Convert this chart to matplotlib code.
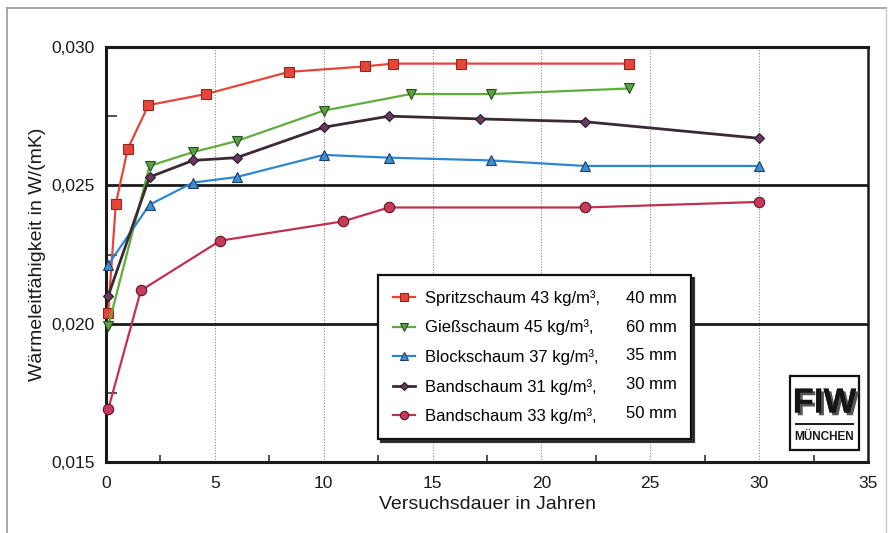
import numpy as np
import matplotlib
matplotlib.use('Agg')
import matplotlib.pyplot as plt
import matplotlib.patheffects as pe
from matplotlib.ticker import FixedLocator, FuncFormatter
from matplotlib.lines import Line2D
from matplotlib.patches import Rectangle

plt.rcParams['font.family'] = ['Liberation Sans', 'DejaVu Sans']

# data (years, W/(mK))
spritz_x = [0.1, 0.45, 1.0, 1.95, 4.6, 8.4, 11.9, 13.2, 16.3, 24.0]
spritz_y = [0.0204, 0.02433, 0.02632, 0.0279, 0.0283, 0.0291, 0.0293, 0.0294, 0.0294, 0.0294]

giess_x = [0.1, 2.0, 4.0, 6.0, 10.0, 14.0, 17.7, 24.0]
giess_y = [0.0199, 0.0257, 0.0262, 0.0266, 0.0277, 0.0283, 0.0283, 0.0285]

block_x = [0.1, 2.0, 4.0, 6.0, 10.0, 13.0, 17.7, 22.0, 30.0]
block_y = [0.02213, 0.0243, 0.0251, 0.0253, 0.0261, 0.0260, 0.0259, 0.0257, 0.0257]

band31_x = [0.1, 2.0, 4.0, 6.0, 10.0, 13.0, 17.2, 22.0, 30.0]
band31_y = [0.0210, 0.0253, 0.0259, 0.0260, 0.0271, 0.0275, 0.0274, 0.0273, 0.0267]

band33_x = [0.1, 1.6, 5.25, 10.9, 13.0, 22.0, 30.0]
band33_y = [0.0169, 0.0212, 0.0230, 0.0237, 0.0242, 0.0242, 0.0244]

names = ['Spritzschaum 43 kg/m³,', 'Gießschaum 45 kg/m³,', 'Blockschaum 37 kg/m³,',
         'Bandschaum 31 kg/m³,', 'Bandschaum 33 kg/m³,']
thick = ['40 mm', '60 mm', '35 mm', '30 mm', '50 mm']

fig = plt.figure(figsize=(8.88, 5.33), dpi=100)
ax = fig.add_axes([106/888, 1-462/533, (868-106)/888, (462-47)/533])

# outer frame of the page
fig.add_artist(Line2D([7/888, 7/888], [0, 1-8/533], color='#9a9a9a', lw=1.2))
fig.add_artist(Line2D([7/888, 886/888], [1-8/533, 1-8/533], color='#9a9a9a', lw=1.2))
fig.add_artist(Line2D([886/888, 886/888], [0, 1-8/533], color='#cfcfcf', lw=1.0))

# grid
for gx in [5, 10, 15, 20, 25, 30]:
    ax.axvline(gx, color='#8a8a8a', lw=0.8, ls=(0, (1, 1.5)), zorder=1)
for gy in [0.020, 0.025]:
    ax.axhline(gy, color='#1a1a1a', lw=2.0, zorder=1)

series = [
    (spritz_x, spritz_y, '#e8453a', 's', '#e8453a', '#8a2a20', 7.5),
    (giess_x, giess_y, '#5fae3c', 'v', '#5aa23a', '#2a4a2a', 7.5),
    (block_x, block_y, '#2f86d0', '^', '#3c8fd4', '#1f3f66', 7.5),
    (band31_x, band31_y, '#3b2a36', 'D', '#6a3a5c', '#2a1a28', 5.5),
    (band33_x, band33_y, '#c2304f', 'o', '#c8385a', '#5a1a28', 7.5),
]
handles = []
for (xs, ys, lc, mk, mfc, mec, ms), lab in zip(series, names):
    h, = ax.plot(xs, ys, color=lc, lw=1.6 if lc != '#3b2a36' else 2.0,
                 marker=mk, markersize=ms, markerfacecolor=mfc, markeredgecolor=mec,
                 markeredgewidth=0.8, label=lab, zorder=3, clip_on=False)
    handles.append(h)

ax.set_xlim(0, 35)
ax.set_ylim(0.015, 0.030)
ax.xaxis.set_major_locator(FixedLocator([0, 5, 10, 15, 20, 25, 30, 35]))
ax.xaxis.set_minor_locator(FixedLocator([2.5, 7.5, 12.5, 17.5, 22.5, 27.5, 32.5]))
ax.yaxis.set_major_locator(FixedLocator([0.015, 0.020, 0.025, 0.030]))
ax.yaxis.set_minor_locator(FixedLocator([0.0175, 0.0225, 0.0275]))
ax.yaxis.set_major_formatter(FuncFormatter(lambda v, p: f'{v:.3f}'.replace('.', ',')))
ax.tick_params(which='major', length=0, labelsize=12.5, pad=8, colors='#1a1a1a')
ax.tick_params(axis='y', which='minor', direction='in', length=8, width=1.2, color='#333333')
ax.tick_params(axis='x', which='minor', direction='in', length=5, width=1.2, color='#333333')
ax.tick_params(axis='x', which='major', pad=10)

for s in ['left', 'bottom', 'top']:
    ax.spines[s].set_linewidth(2.2)
    ax.spines[s].set_color('#1a1a1a')
ax.spines['right'].set_linewidth(1.8)
ax.spines['right'].set_color('#1a1a1a')

ax.set_xlabel('Versuchsdauer in Jahren', fontsize=14, labelpad=4, color='#1a1a1a')
ax.set_ylabel('Wärmeleitfähigkeit in W/(mK)', fontsize=14, labelpad=4, color='#1a1a1a')

# legend: names in first column, thickness in second
blank = [Line2D([], [], color='none') for _ in thick]
leg = ax.legend(handles + blank, names + thick, ncol=2, loc='upper left',
                bbox_to_anchor=((378-106)/762, 1-(275-47)/415), fontsize=12,
                frameon=True, fancybox=False, edgecolor='#111111',
                shadow={'color': '#222222', 'alpha': 0.9},
                handlelength=1.3, handletextpad=0.6, columnspacing=-0.35,
                labelspacing=0.82, borderpad=0.9, markerscale=0.8, borderaxespad=0)
leg.get_frame().set_linewidth(1.6)
leg.set_zorder(5)

# FIW logo
lx0, ly0, lx1, ly1 = 790, 376, 859, 450
ax.add_patch(Rectangle(((lx0-106)/762, (462-ly1)/415), (lx1-lx0)/762, (ly1-ly0)/415,
                       transform=ax.transAxes, facecolor='white', edgecolor='#111111',
                       lw=1.6, zorder=6))
cx = ((lx0+lx1)/2-106)/762
ax.text(cx, (462-403)/415, 'FIW', transform=ax.transAxes, ha='center', va='center',
        fontsize=25, fontweight='bold', color='#151515', zorder=7,
        path_effects=[pe.withSimplePatchShadow(offset=(2, -2), shadow_rgbFace='#555555', alpha=1),
                      pe.Normal()])
ax.add_line(Line2D([(lx0+6-106)/762, (lx1-6-106)/762], [(462-424)/415]*2,
                   transform=ax.transAxes, color='#1a1a1a', lw=1.4, zorder=7))
ax.text(cx, (462-437)/415, 'MÜNCHEN', transform=ax.transAxes, ha='center', va='center',
        fontsize=8.5, fontweight='bold', color='#1a1a1a', zorder=7)

fig.savefig('out.png', dpi=100)
